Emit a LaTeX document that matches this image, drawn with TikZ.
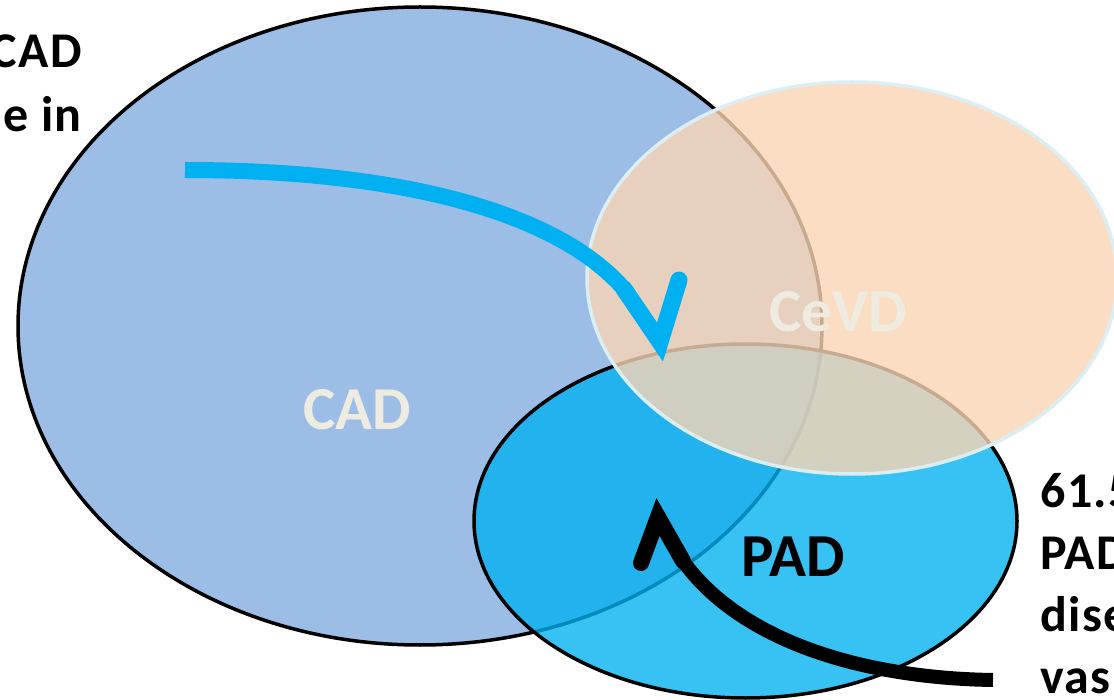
\documentclass[tikz,border=0pt]{standalone}
\usepackage{fontspec}
\setmainfont{Carlito}
\usetikzlibrary{calc,positioning,arrows.meta}
\definecolor{cadblue}{HTML}{9BBDE6}
\definecolor{padcyan}{HTML}{00B0F0}
\definecolor{cevdpeach}{HTML}{FBD5B5}
\definecolor{cevdrim}{HTML}{DAEEF3}
\definecolor{cream}{HTML}{EEECE1}
\tikzset{
  setlbl/.style={font=\fontsize{61}{70}\selectfont\bfseries,inner sep=0pt,anchor=base},
  sidetxt/.style={font=\fontsize{50}{62}\selectfont\bfseries\addfontfeatures{LetterSpace=3},inner sep=0pt},
  bendline/.style={line width=16pt,line cap=butt},
  chev/.style={line width=17pt,line cap=round,line join=miter},
}
\begin{document}
\begin{tikzpicture}[x=1pt,y=-1pt]
\useasboundingbox (0,0) rectangle (1114,700);
\clip (0,0) rectangle (1114,700);
\fill[white] (0,0) rectangle (1114,700);
% the three sets
\draw[fill=cadblue,line width=3.5pt] (420,326) ellipse [x radius=402,y radius=319];
\draw[fill=padcyan,fill opacity=0.78,line width=3.5pt] (745.5,521) ellipse [x radius=271.5,y radius=177];
\draw[fill=cevdpeach,fill opacity=0.8,draw=cevdrim,line width=3.5pt] (852,278) ellipse [x radius=265,y radius=196];
\node[setlbl,text=cream] (cad) at (357,430) {CAD};
\node[setlbl,text=cream] (cevd) at (838,332) {CeVD};
\node[setlbl] (pad) at (793,576) {PAD};
% side texts
\node[sidetxt,anchor=base east] (l1) at (82,68) {CAD};
\node[sidetxt,anchor=base east] (l2) at (82,132) {e in};
\node[sidetxt,anchor=base west] (r1) at (1040,507) {61.5};
\node[sidetxt,anchor=base west] (r2) at (1040,569) {PAD};
\node[sidetxt,anchor=base west] (r3) at (1040,631) {dise};
\node[sidetxt,anchor=base west] (r4) at (1040,693) {vas};
% arrows
\coordinate (bstart) at (185,170);
\coordinate (bjoin) at (624,289);
\coordinate (btip) at (660,342);
\coordinate (barm) at (679,280);
\draw[bendline,padcyan] (bstart) .. controls (400,170) and (557,212) .. (bjoin);
\draw[chev,padcyan] (bjoin) -- (btip) -- (barm);
\coordinate (kstart) at (993,680);
\coordinate (kjoin) at (683,561);
\coordinate (ktip) at (658,517);
\coordinate (karm) at (641,563);
\draw[bendline,line width=14pt] (kstart) .. controls (860,678) and (740,640) .. (kjoin);
\draw[chev,line width=16pt] (kjoin) -- (ktip) -- (karm);
\end{tikzpicture}
\end{document}
